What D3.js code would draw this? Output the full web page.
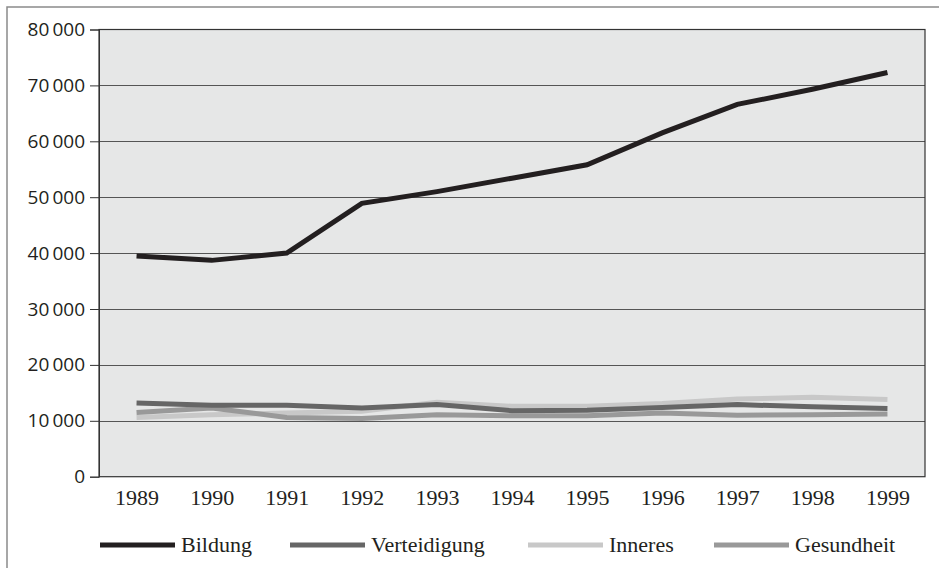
<!DOCTYPE html>
<html lang="de">
    <head>
        <meta charset="utf-8">
        <script src="https://d3js.org/d3.v7.min.js"></script>
        <style>
            body { margin: 0; background: #fff; }
            svg { display: block; }
        </style>
    </head>
    <body>
        <svg id="chart"></svg>

        <script>
            // values
            const years = ["1989", "1990", "1991", "1992", "1993", "1994", "1995", "1996", "1997", "1998", "1999"];
            const bildung = [39500, 38700, 40000, 48900, 51000, 53400, 55800, 61500, 66600, 69300, 72300];
            const verteidigung = [13200, 12800, 12800, 12300, 12900, 11800, 11900, 12400, 12900, 12500, 12200];
            const inneres = [10600, 11100, 11400, 11700, 13300, 12600, 12600, 13100, 13900, 14200, 13800];
            const gesundheit = [11500, 12300, 10600, 10400, 11100, 10900, 10900, 11400, 11000, 11100, 11200];
            const yTicks = [0, 10000, 20000, 30000, 40000, 50000, 60000, 70000, 80000];

            const seriesNames = ["Bildung", "Verteidigung", "Inneres", "Gesundheit"];
            const seriesValues = [bildung, verteidigung, inneres, gesundheit];
            const colors = ["#231f20", "#666666", "#c8c8c8", "#999999"];

            var width = 939;
            var height = 568;
            var plot = { left: 99, top: 29.5, right: 925, bottom: 476.7 };

            var svg = d3.select("#chart")
                .attr("width", width)
                .attr("height", height);

            // outer frame
            svg.append("rect")
                .attr("x", 7).attr("y", 7)
                .attr("width", 980).attr("height", 620)
                .attr("fill", "none")
                .attr("stroke", "#8a8a8a")
                .attr("stroke-width", 1.5);

            var x = d3.scalePoint().domain(years).range([plot.left, plot.right]).padding(0.5);
            var y = d3.scaleLinear().domain([0, 80000]).range([plot.bottom, plot.top]);

            // plot background
            svg.append("rect")
                .attr("x", plot.left).attr("y", plot.top)
                .attr("width", plot.right - plot.left)
                .attr("height", plot.bottom - plot.top)
                .attr("fill", "#e6e7e7");

            // gridlines
            svg.append("g")
                .selectAll("line")
                .data(yTicks.filter(d => d > 0 && d < 80000))
                .enter()
                .append("line")
                .attr("x1", plot.left).attr("x2", plot.right)
                .attr("y1", d => Math.round(y(d)) + 0.5)
                .attr("y2", d => Math.round(y(d)) + 0.5)
                .attr("stroke", "#555")
                .attr("stroke-width", 1);

            // plot border
            svg.append("rect")
                .attr("x", plot.left).attr("y", plot.top)
                .attr("width", plot.right - plot.left)
                .attr("height", plot.bottom - plot.top)
                .attr("fill", "none")
                .attr("stroke", "#333")
                .attr("stroke-width", 1.2);

            // y axis
            var fmt = d => {
                var s = d3.format("d")(d);
                return s.length > 3 ? s.slice(0, -3) + "\u2009" + s.slice(-3) : s;
            };
            var yAxis = svg.append("g")
                .attr("transform", "translate(" + plot.left + ",0)")
                .call(d3.axisLeft(y).tickValues(yTicks).tickSize(9).tickPadding(5).tickFormat(fmt));
            yAxis.select(".domain").attr("stroke", "#333");
            yAxis.selectAll(".tick line").attr("stroke", "#333");
            yAxis.selectAll("text")
                .attr("fill", "#231f20")
                .style("font-family", "'Open Sans', sans-serif")
                .style("font-size", "19px");

            // x axis
            var xAxis = svg.append("g")
                .attr("transform", "translate(0," + plot.bottom + ")")
                .call(d3.axisBottom(x).tickSize(0).tickPadding(13));
            xAxis.select(".domain").remove();
            xAxis.selectAll("text")
                .attr("fill", "#231f20")
                .style("font-family", "'Liberation Serif', serif")
                .style("font-size", "22px");

            // lines
            var line = d3.line()
                .x((d, i) => x(years[i]))
                .y(d => y(d));

            // draw light ones first, Bildung on top
            var order = [2, 3, 1, 0];
            order.forEach(k => {
                svg.append("path")
                    .datum(seriesValues[k])
                    .attr("d", line)
                    .attr("fill", "none")
                    .attr("stroke", colors[k])
                    .attr("stroke-width", 5)
                    .attr("stroke-linejoin", "miter");
            });

            // legend
            var legendX = [100, 290, 528, 714];
            var legend = svg.append("g");
            seriesNames.forEach((name, k) => {
                legend.append("line")
                    .attr("x1", legendX[k]).attr("x2", legendX[k] + 75)
                    .attr("y1", 545).attr("y2", 545)
                    .attr("stroke", colors[k])
                    .attr("stroke-width", 5);
                legend.append("text")
                    .attr("x", legendX[k] + 81)
                    .attr("y", 552)
                    .attr("fill", "#231f20")
                    .style("font-family", "'Liberation Serif', serif")
                    .style("font-size", "22px")
                    .text(name);
            });
        </script>
    </body>
</html>
